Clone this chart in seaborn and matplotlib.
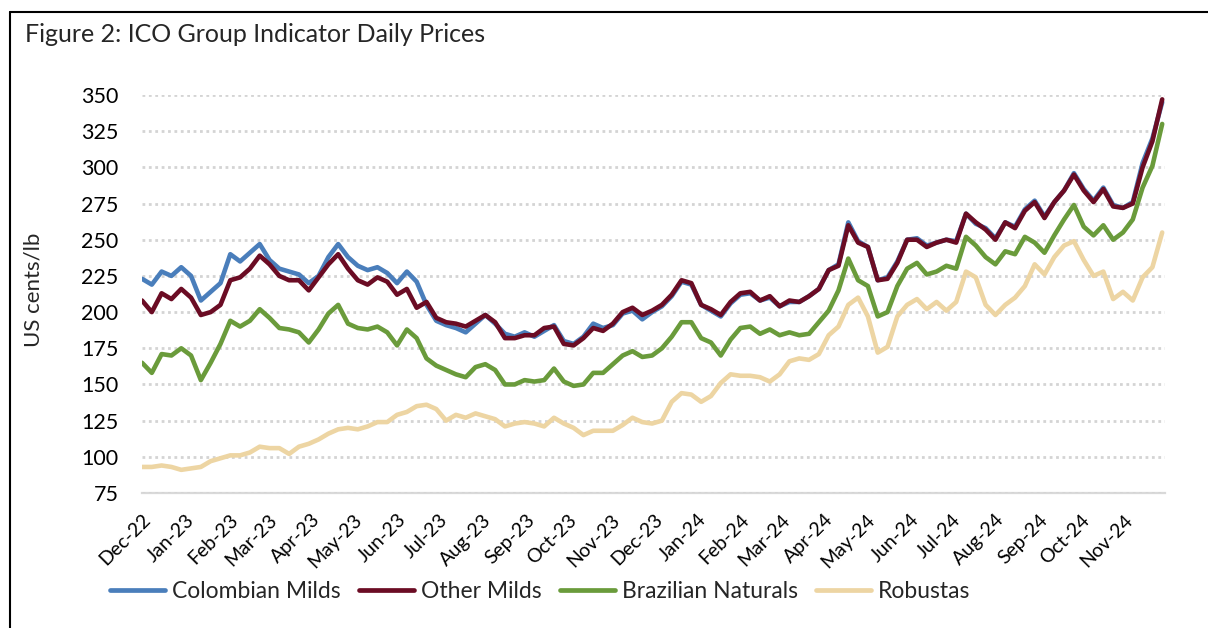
import numpy as np
import pandas as pd
import matplotlib
matplotlib.use("Agg")
import matplotlib.pyplot as plt
import matplotlib.dates as mdates
from matplotlib.lines import Line2D
import seaborn as sns

# Weekly readings, starting 1 Dec 2022
start_date = "2022-12-01"
n_weeks = 105

colombian_milds = [
    223, 219, 228, 225, 231, 225, 208, 214, 220, 240,
    235, 241, 247, 236, 230, 228, 226, 220, 225, 238,
    247, 238, 232, 229, 231, 227, 220, 228, 221, 205,
    194, 191, 189, 186, 192, 198, 192, 185, 183, 186,
    183, 187, 191, 180, 178, 183, 192, 189, 191, 199,
    201, 195, 200, 204, 211, 221, 219, 205, 201, 197,
    206, 212, 213, 208, 210, 204, 207, 207, 211, 216,
    229, 233, 262, 249, 245, 222, 224, 235, 250, 251,
    246, 248, 250, 249, 268, 261, 258, 251, 262, 259,
    271, 277, 266, 276, 284, 296, 285, 277, 286, 274,
    272, 276, 303, 320, 345,
]
other_milds = [
    208, 200, 213, 209, 216, 210, 198, 200, 205, 222,
    224, 230, 239, 233, 225, 222, 222, 215, 224, 233,
    240, 230, 222, 219, 224, 221, 212, 216, 203, 207,
    196, 193, 192, 190, 194, 198, 193, 182, 182, 184,
    184, 189, 190, 178, 177, 182, 189, 187, 192, 200,
    203, 198, 201, 205, 212, 222, 220, 205, 202, 198,
    207, 213, 214, 208, 211, 204, 208, 207, 211, 216,
    229, 232, 260, 248, 245, 222, 223, 234, 250, 250,
    245, 248, 250, 248, 268, 262, 257, 250, 262, 258,
    270, 276, 265, 276, 284, 295, 284, 276, 285, 273,
    272, 275, 300, 318, 347,
]
brazilian_naturals = [
    165, 158, 171, 170, 175, 170, 153, 165, 178, 194,
    190, 194, 202, 196, 189, 188, 186, 179, 188, 199,
    205, 192, 189, 188, 190, 186, 177, 188, 182, 168,
    163, 160, 157, 155, 162, 164, 160, 150, 150, 153,
    152, 153, 161, 152, 149, 150, 158, 158, 164, 170,
    173, 169, 170, 175, 183, 193, 193, 182, 179, 170,
    181, 189, 190, 185, 188, 184, 186, 184, 185, 193,
    201, 215, 237, 222, 218, 197, 200, 218, 230, 234,
    226, 228, 232, 230, 252, 246, 238, 233, 242, 240,
    252, 248, 241, 253, 264, 274, 259, 253, 260, 250,
    255, 264, 286, 301, 330,
]
robustas = [
    93, 93, 94, 93, 91, 92, 93, 97, 99, 101,
    101, 103, 107, 106, 106, 102, 107, 109, 112, 116,
    119, 120, 119, 121, 124, 124, 129, 131, 135, 136,
    133, 125, 129, 127, 130, 128, 126, 121, 123, 124,
    123, 121, 127, 123, 120, 115, 118, 118, 118, 122,
    127, 124, 123, 125, 138, 144, 143, 138, 142, 151,
    157, 156, 156, 155, 152, 157, 166, 168, 167, 171,
    184, 190, 205, 210, 197, 172, 176, 197, 205, 209,
    202, 207, 201, 207, 228, 224, 205, 198, 205, 210,
    218, 233, 226, 238, 246, 249, 236, 225, 228, 209,
    214, 208, 224, 231, 255,
]

series_names = ["Colombian Milds", "Other Milds", "Brazilian Naturals", "Robustas"]
colors = ["#4A7EBB", "#6B0C24", "#6A9B3B", "#EDD5A3"]
y_ticks = [75, 100, 125, 150, 175, 200, 225, 250, 275, 300, 325, 350]

dates = pd.date_range(start_date, periods=n_weeks, freq="7D")
frames = []
for name, vals in zip(series_names, [colombian_milds, other_milds, brazilian_naturals, robustas]):
    frames.append(pd.DataFrame({"Date": dates, "Price": vals, "Series": name}))
df = pd.concat(frames, ignore_index=True)

sns.set_theme(style="white")
plt.rcParams["font.family"] = ["Lato", "DejaVu Sans"]

fig = plt.figure(figsize=(12.08, 6.28), dpi=100)
ax = fig.add_axes([142 / 1208, 1 - 493 / 628, (1165 - 142) / 1208, (493 - 95) / 628])

sns.lineplot(data=df, x="Date", y="Price", hue="Series", hue_order=series_names,
             palette=dict(zip(series_names, colors)), sort=False,
             ax=ax, legend=False)
for ln in ax.lines:
    ln.set_linewidth(3.3)
    ln.set_solid_joinstyle("round")
    ln.set_solid_capstyle("round")

ax.set_ylim(75, 350)
ax.set_yticks(y_ticks)
ax.set_xlim(pd.Timestamp("2022-12-01"), pd.Timestamp("2024-11-30"))
ax.xaxis.set_major_locator(mdates.MonthLocator())
ax.xaxis.set_major_formatter(mdates.DateFormatter("%b-%y"))
ax.set_xlabel("")
ax.set_ylabel("")

for s in ["top", "right", "left"]:
    ax.spines[s].set_visible(False)
ax.spines["bottom"].set_color("#D9D9D9")
ax.spines["bottom"].set_linewidth(1.6)
ax.spines["bottom"].set_zorder(0)

ax.yaxis.grid(True, color="#D4D4D4", linestyle=(0, (1, 1.3)), linewidth=2.0)
ax.xaxis.grid(False)
ax.set_axisbelow(True)

ax.tick_params(axis="both", length=0, labelsize=15.5, colors="#000000")
ax.tick_params(axis="y", pad=17)
ax.tick_params(axis="x", pad=13)
for lbl in ax.get_xticklabels():
    lbl.set_rotation(45)
    lbl.set_ha("right")
    lbl.set_rotation_mode("anchor")
    lbl.set_fontsize(14)

fig.text(25 / 1208, 1 - 34 / 628, "Figure 2: ICO Group Indicator Daily Prices",
         fontsize=18, va="center", ha="left")
fig.text(33 / 1208, 1 - 290 / 628, "US cents/lb", rotation=90, fontsize=16,
         va="center", ha="center")

handles = [Line2D([], [], color=c, linewidth=3.4, solid_capstyle="round") for c in colors]
fig.legend(handles, series_names, loc="center left",
           bbox_to_anchor=(110 / 1208, 1 - 592 / 628), ncol=4, frameon=False,
           fontsize=16.5, handlelength=2.4, handletextpad=0.3, columnspacing=0.8,
           borderaxespad=0, borderpad=0)

# outer frame (top and left edges)
fig.add_artist(Line2D([10 / 1208, 1.0], [1 - 12 / 628, 1 - 12 / 628],
                      transform=fig.transFigure, color="black", linewidth=1.5))
fig.add_artist(Line2D([10 / 1208, 10 / 1208], [0.0, 1 - 12 / 628],
                      transform=fig.transFigure, color="black", linewidth=1.5))

fig.savefig("out.png", dpi=100)
